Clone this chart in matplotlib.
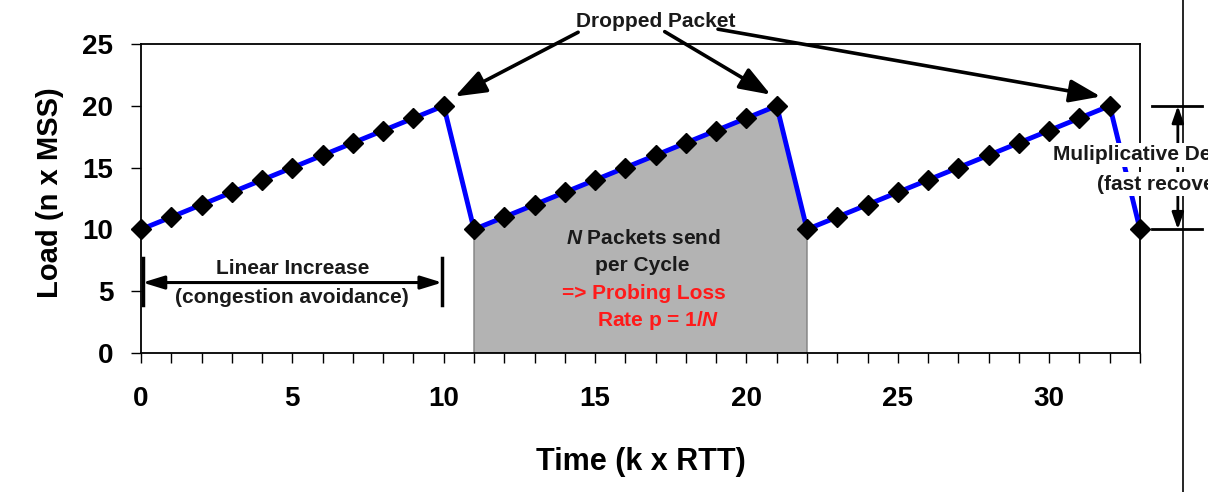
import matplotlib
matplotlib.use("Agg")
import matplotlib.pyplot as plt
from matplotlib.ticker import MultipleLocator
from matplotlib.lines import Line2D

plt.rcParams['font.family'] = ['Liberation Sans', 'DejaVu Sans']
plt.rcParams['mathtext.fontset'] = 'custom'
plt.rcParams['mathtext.it'] = 'Liberation Sans:italic:bold'
plt.rcParams['mathtext.rm'] = 'Liberation Sans:bold'

# data
time = list(range(0, 34))
load = [10, 11, 12, 13, 14, 15, 16, 17, 18, 19, 20,
        10, 11, 12, 13, 14, 15, 16, 17, 18, 19, 20,
        10, 11, 12, 13, 14, 15, 16, 17, 18, 19, 20,
        10]
shade_x = [11, 11, 21, 22, 22]
shade_y = [0, 10, 20, 10, 0]
x_ticks = [0, 5, 10, 15, 20, 25, 30]
y_ticks = [0, 5, 10, 15, 20, 25]

fig = plt.figure(figsize=(12.08, 4.92), dpi=100)
ax = fig.add_axes([141/1208, 1-353/492, (1140-141)/1208, (353-44)/492])

ax.fill(shade_x, shade_y, facecolor='#b3b3b3', edgecolor='#808080', linewidth=1, zorder=1)
ax.plot(time, load, color='#0000ff', linewidth=3.5, marker='D', markersize=10,
        markerfacecolor='black', markeredgecolor='black', zorder=3, clip_on=False)

ax.set_xlim(0, 33)
ax.set_ylim(0, 25)
ax.set_xticks(x_ticks)
ax.set_yticks(y_ticks)
ax.xaxis.set_minor_locator(MultipleLocator(1))
ax.tick_params(axis='x', which='both', direction='out', length=7, width=1, pad=17,
               labelsize=20)
ax.tick_params(axis='y', which='major', direction='out', length=7, width=1, pad=13,
               labelsize=20)
for lab in ax.get_xticklabels() + ax.get_yticklabels():
    lab.set_fontweight('bold')
for s in ax.spines.values():
    s.set_linewidth(1.3)

ax.set_xlabel('Time (k x RTT)', fontsize=22, fontweight='bold')
ax.set_ylabel('Load (n x MSS)', fontsize=21, fontweight='bold')
ax.xaxis.set_label_coords(0.5, -0.305)
ax.yaxis.set_label_coords(-0.077, 0.52)

tc = '#1a1a1a'
fs = 15
# Dropped Packet annotations
ax.text(17.02, 26.8, 'Dropped Packet', ha='center', va='center', fontsize=fs,
        fontweight='bold', color=tc)
starts = [(14.44, 25.95), (17.3, 26.0), (19.06, 26.2)]
ends = [(10.37, 20.75), (20.8, 20.9), (31.7, 20.75)]
for (sx, sy), (ex, ey) in zip(starts, ends):
    ax.annotate('', xy=(ex, ey), xytext=(sx, sy), xycoords='data',
                annotation_clip=False,
                arrowprops=dict(arrowstyle='-|>,head_length=1.9,head_width=0.7',
                                color='black', linewidth=2.6, shrinkA=0, shrinkB=0))

# Linear increase
ax.annotate('', xy=(0.05, 5.7), xytext=(9.95, 5.7),
            arrowprops=dict(arrowstyle='<|-|>,head_length=1.3,head_width=0.4',
                            color='black', linewidth=2.2, shrinkA=0, shrinkB=0))
ax.plot([0.05, 0.05], [3.9, 7.7], color='black', linewidth=2.5, clip_on=False)
ax.plot([9.95, 9.95], [3.9, 7.7], color='black', linewidth=2.5, clip_on=False)
ax.text(5.0, 6.85, 'Linear Increase', ha='center', va='center', fontsize=fs,
        fontweight='bold', color=tc)
ax.text(5.0, 4.5, '(congestion avoidance)', ha='center', va='center', fontsize=fs,
        fontweight='bold', color=tc)

# N packets text
ax.text(16.6, 9.3, r'$N$ Packets send', ha='center', va='center', fontsize=fs,
        fontweight='bold', color=tc)
ax.text(16.55, 7.1, 'per Cycle', ha='center', va='center', fontsize=fs,
        fontweight='bold', color=tc)
ax.text(16.6, 4.85, '=> Probing Loss', ha='center', va='center', fontsize=fs,
        fontweight='bold', color='#ff1a1a')
ax.text(17.1, 2.65, r'Rate p = 1/$N$', ha='center', va='center', fontsize=fs,
        fontweight='bold', color='#ff1a1a')

# Multiplicative decrease
ax.plot([33.4, 35.05], [20, 20], color='black', linewidth=2, clip_on=False, zorder=4)
ax.plot([33.4, 35.05], [10, 10], color='black', linewidth=2, clip_on=False, zorder=4)
ax.annotate('', xy=(34.25, 20), xytext=(34.25, 10), annotation_clip=False,
            arrowprops=dict(arrowstyle='<|-|>,head_length=1.0,head_width=0.35',
                            color='black', linewidth=2.0, shrinkA=0, shrinkB=0))
ax.add_line(Line2D([1183/1208, 1183/1208], [0, 1], transform=fig.transFigure,
                   color='black', linewidth=1.2, clip_on=False, zorder=1))
ax.text(1053/1208, 1-155/492, 'Muliplicative Decrease', transform=fig.transFigure,
        ha='left', va='center', fontsize=fs, fontweight='bold', color=tc,
        zorder=6, clip_on=False,
        bbox=dict(facecolor='white', edgecolor='none', pad=2))
ax.text(1097/1208, 1-184/492, '(fast recovery)', transform=fig.transFigure,
        ha='left', va='center', fontsize=fs, fontweight='bold', color=tc,
        zorder=6, clip_on=False,
        bbox=dict(facecolor='white', edgecolor='none', pad=2))

fig.savefig('out.png', dpi=100)
